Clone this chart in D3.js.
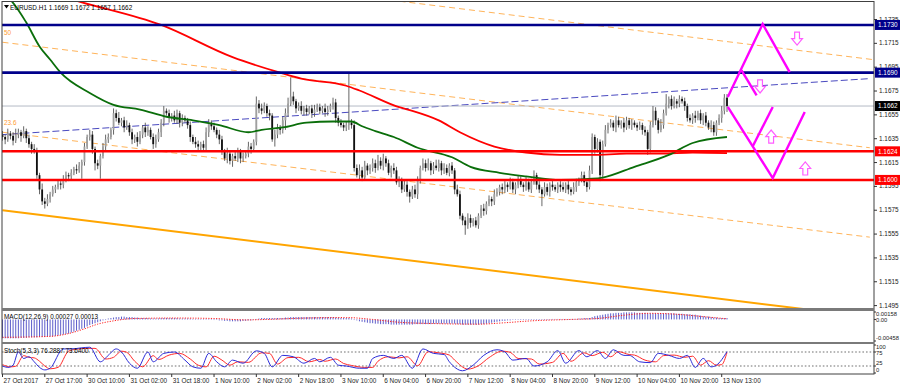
<!DOCTYPE html>
<html>
<head>
<meta charset="utf-8">
<script src="https://cdn.jsdelivr.net/npm/d3@7"></script>
<style>
  body { margin: 0; background: #fff; }
  svg { display: block; }
  text { font-family: "Liberation Sans", Arial, sans-serif; }
</style>
</head>
<body>
<svg id="chart" width="900" height="387"></svg>
<script>
// ---- data (prices in pips above 1.1500) ----
const firstOpen = 138;
const closes = [
  136,134,139,137,133,138,140,137,141,135,
  130,126,124,104,92,82,80,84,88,92,
  94,97,96,100,104,103,106,109,108,112,
  115,128,136,138,126,114,112,120,128,134,
  136,142,156,152,148,150,144,146,140,134,
  136,132,138,144,140,142,136,130,134,140,
  148,158,156,152,154,150,156,148,152,150,
  146,136,132,130,128,130,127,140,148,145,
  142,138,134,124,118,122,116,120,118,124,
  118,120,122,128,126,132,164,160,158,162,
  156,154,134,138,144,142,150,156,164,170,
  166,160,162,158,160,157,160,156,159,161,
  158,160,157,159,162,165,152,148,146,144,
  146,148,146,110,104,108,102,112,108,110,
  114,110,116,112,118,114,106,110,108,98,
  100,92,96,90,86,92,88,100,110,114,
  110,114,108,112,110,114,108,110,106,112,
  108,92,88,70,66,62,68,64,66,62,
  70,76,74,80,84,82,88,90,94,92,
  96,94,98,92,96,100,96,94,98,92,
  98,104,96,92,88,94,90,96,94,92,
  96,94,92,96,92,90,94,98,100,104,
  98,94,108,136,126,132,104,130,142,146,
  148,144,150,146,148,144,150,146,148,146,
  144,146,142,140,126,146,158,150,142,146,
  156,164,168,162,166,164,168,166,162,152,
  150,154,152,156,150,154,148,144,146,140,
  148,152,158,169,162
];
const wickUp = [
  3,2,4,2,3,5,3,2,4,2, 3,2,4,3,2,5,3,4,2,3, 2,3,2,4,3,2,3,2,4,3,
  2,3,2,4,3,2,3,2,3,4, 3,2,4,3,5,2,3,4,2,3, 2,4,3,2,4,3,2,3,4,3,
  3,4,2,3,2,4,3,2,3,2, 2,3,2,4,3,2,3,4,3,2, 3,2,4,3,2,5,3,2,4,3,
  2,3,2,4,3,2,6,3,4,3, 2,3,2,4,3,2,3,4,5,16, 4,2,3,4,2,3,2,3,4,3,
  3,2,4,3,2,4,3,2,3,2, 3,42,3,4,3,5,3,4,2,3, 4,3,5,3,4,2,3,2,4,3,
  3,2,4,3,2,3,4,3,2,4, 3,4,2,3,5,3,2,4,3,2, 3,2,4,3,2,3,4,3,2,3,
  2,3,4,2,3,2,4,3,2,3, 3,2,4,3,2,4,3,2,5,3, 3,4,2,3,2,4,3,2,3,2,
  2,3,4,2,3,2,4,3,2,3, 3,2,4,3,2,3,2,3,4,2, 3,2,4,3,2,4,3,2,3,2,
  2,3,2,3,2,3,4,3,2,5, 3,8,2,3,4,2,3,2,3,2, 3,2,4,2,3,2,3,2,4,3,
  2,3,4,3,3
];
const wickDn = [
  3,4,2,3,4,2,3,5,2,4, 3,4,2,3,4,3,4,2,3,2, 3,2,4,3,2,4,3,2,3,2,
  11,3,2,3,4,6,3,11,2,3, 3,2,4,3,2,3,4,2,3,4, 3,4,2,3,4,3,2,4,3,2,
  4,3,2,4,3,2,3,4,3,2, 3,4,2,3,4,3,2,3,4,3, 2,3,4,3,2,4,3,5,2,3,
  4,3,2,3,4,2,3,4,3,2, 3,4,2,6,3,4,3,8,3,2, 3,4,2,3,4,3,2,4,3,2,
  3,2,4,3,2,3,4,3,2,3, 3,4,3,3,2,4,3,2,4,3, 3,4,2,3,4,3,2,4,3,2,
  4,3,2,4,5,2,3,4,3,2, 3,2,4,3,2,3,4,3,2,3, 3,4,2,3,4,8,3,4,3,2,
  3,2,4,3,2,4,3,2,3,4, 3,4,2,3,4,3,2,4,3,2, 3,2,4,3,10,2,3,4,3,2,
  3,4,2,3,4,3,2,4,3,2, 3,4,2,3,4,3,5,3,2,3, 2,3,4,2,3,4,2,3,4,2,
  3,2,4,3,5,3,2,4,3,2, 3,2,4,3,2,4,3,2,4,3, 2,3,4,2,3,4,3,2,4,3,
  3,2,4,3,5
];
// moving averages, read as [bar, pips]
const redMA = [[0,268],[30,249],[60,230],[87,203],[105,190],[113,185],[130,179],[135,175],
  [150,161],[155,158],[165,150],[173,140],[186,128],[198,123],[211,121],[223,121],[236,122],
  [249,122],[261,123],[274,122.5]];
const greenMA = [[0,256],[3,251],[9,232],[14,212],[18,201],[22,190],[33,173],[42,163],[52,159],
  [62,153],[72,150],[82,146],[93,140],[98,142],[106,144],[115,148],[125,149],[132,149],[136,145],
  [141,141],[148,136],[157,127],[170,119],[177,111],[188,106],[198,103],[211,100],[223,101],
  [227,102],[239,111],[252,121],[261,131],[274,136]];
// drawn trend lines, [bar, pips]
const blueTrend = [[0,138],[328,185]];
const fibLevels = ["78.6", "50", "23.6", "0"];
const fibLines = [[[0,291],[329,201]], [[0,215.5],[328,127]], [[0,140],[328,52]], [[0,74.6],[330,-15.7]]];
const levelPrices = [1.1730, 1.1690, 1.1624, 1.1600];
const bidPrice = 1.1662;
const priceTicks = [1.1735,1.1715,1.1695,1.1675,1.1655,1.1635,1.1615,1.1595,1.1575,1.1555,1.1535,1.1515,1.1495];
// projected pattern
const zigzags = [
  [[274.3,169.6],[287.5,230.8],[297.7,190.5]],
  [[279.5,192],[285.2,171]],
  [[274.3,161.2],[291.3,101.6],[303.4,157]],
  [[283.7,128],[291.3,161.2]]
];
const arrows = [
  {i:300.5, p:218.6, dir:"down"}, {i:286.5, p:178.4, dir:"down"},
  {i:290.7, p:136.4, dir:"up"}, {i:303.6, p:109.6, dir:"up"}
];
// MACD main (histogram), pips
const macd = [
  -40,-40,-40,-40,-40,-40,-40,-39,-39,-39, -38,-38,-38,-38,-37,-37,-37,-36,-36,-36,
  -35,-34,-33,-32,-31,-30,-28,-26,-24,-22, -20,-18,-15,-12,-10,-8,-6,-4,-2,0,
  2,3,4,5,5,6,6,5,5,5, 4,4,3,3,3,3,2,2,2,2, 3,3,3,3,3,3,3,2,2,2, 2,2,1,1,1,1,1,1,1,1,
  0,-1,-2,-2,-3,-3,-4,-4,-4,-4, -4,-3,-3,-2,-2,-1,1,2,3,3, 3,3,3,3,3,3,3,4,4,5,
  5,5,5,5,5,5,5,5,5,5, 5,5,5,5,5,5,4,4,3,3, 3,3,2,0,-2,-4,-5,-6,-7,-8,
  -8,-9,-9,-10,-10,-10,-10,-11,-11,-11, -11,-11,-11,-11,-11,-11,-10,-10,-10,-10,
  -10,-10,-10,-9,-9,-9,-9,-9,-9,-9, -9,-9,-10,-10,-11,-11,-11,-11,-11,-11,
  -11,-10,-10,-9,-8,-7,-6,-5,-4,-3, -3,-2,-2,-1,-1,-1,0,0,0,0, 0,0,0,0,0,0,0,0,1,1,
  1,1,1,1,1,1,1,1,2,2, 3,3,3,5,7,8,9,10,11,12, 13,13,14,14,14,15,15,15,15,15,
  14,14,14,14,13,13,13,13,13,13, 13,13,13,13,13,12,12,12,11,11, 11,10,10,9,8,7,6,6,5,4,
  4,3,3,3,3
];
const macdSignal = [[0,-38],[18,-36],[25,-30],[31,-20],[36,-10],[42,-3],[50,2],[65,3],[80,2],
  [92,-1],[100,0],[115,3],[130,4],[140,0],[150,-6],[165,-9],[180,-10],[190,-7],[200,-3],[215,0],
  [225,2],[235,9],[245,13],[255,11],[265,6],[274,1.3]];
// Stochastic %K and %D, [bar, value]
const stochK = [[0,25],[2,20],[4,28],[6,75],[8,52],[10,58],[12,40],[14,20],[16,11],[18,17],[23,86],
  [26,86],[30,90],[33,92],[37,40],[40,63],[43,86],[45,75],[48,35],[51,17],[55,75],[57,40],[61,70],
  [65,75],[69,46],[72,22],[75,17],[78,70],[81,40],[84,22],[87,46],[91,35],[96,79],[99,70],[102,22],
  [106,63],[110,58],[114,35],[118,52],[120,40],[124,56],[127,28],[130,25],[135,17],[138,17],[140,52],
  [144,63],[148,52],[151,63],[155,17],[159,86],[163,70],[167,66],[169,40],[174,8],[178,28],[182,63],
  [187,83],[190,75],[193,46],[198,52],[201,25],[206,40],[210,80],[213,35],[218,80],[221,58],[225,80],
  [228,52],[231,83],[235,63],[237,63],[241,40],[245,37],[248,70],[252,63],[256,52],[259,63],[262,20],
  [265,52],[268,22],[270,28],[274,76.3]];
const stochD = [[0,30],[3,22],[5,24],[8,62],[10,56],[12,54],[14,42],[16,25],[18,15],[21,20],[25,78],
  [28,85],[32,88],[35,88],[39,50],[42,56],[45,78],[47,74],[50,42],[53,22],[57,62],[59,48],[63,64],
  [67,70],[71,50],[74,28],[77,22],[80,60],[83,46],[86,28],[89,40],[93,38],[98,72],[101,70],[104,32],
  [108,55],[112,56],[116,40],[120,48],[122,42],[126,50],[129,34],[132,27],[137,20],[140,20],[142,42],
  [146,58],[150,54],[153,58],[157,26],[161,76],[165,72],[169,64],[171,46],[176,14],[180,26],[184,55],
  [189,78],[192,74],[195,52],[200,50],[203,32],[208,38],[212,70],[215,42],[220,72],[223,62],[227,74],
  [230,58],[233,76],[237,66],[239,64],[243,46],[247,40],[250,62],[254,64],[258,56],[261,60],[264,28],
  [267,44],[270,28],[272,30],[274,73.6]];
const timeLabelBars = [0,16,32,48,64,80,96,112,128,144,160,176,192,208,224,240,256,272];
const timeLabels = ["27 Oct 2017","27 Oct 17:00","30 Oct 10:00","31 Oct 02:00","31 Oct 18:00",
  "1 Nov 10:00","2 Nov 02:00","2 Nov 18:00","3 Nov 10:00","6 Nov 04:00","6 Nov 20:00","7 Nov 12:00",
  "8 Nov 04:00","8 Nov 20:00","9 Nov 12:00","10 Nov 04:00","10 Nov 20:00","13 Nov 13:00"];

// ---- layout ----
const left = 2, right = 874;
const main = { top: 2, bottom: 308 };
const macdP = { top: 311, bottom: 342 };
const stochP = { top: 344, bottom: 374 };
const fs = 6.4;

const svg = d3.select('#chart');
const toPrice = v => 1.15 + v / 10000;

const x = d3.scaleLinear().domain([0, 274]).range([2.5, 727]);
const yP = d3.scaleLinear().domain([1.1735, 1.1495]).range([19, 305.1]);
const y = v => yP(toPrice(v));
const yM = d3.scaleLinear().domain([-45.8, 15.8]).range([341, 312]);
const yS = d3.scaleLinear().domain([0, 100]).range([373, 345]);

const defs = svg.append('defs');
defs.append('clipPath').attr('id', 'clipMain').append('rect')
  .attr('x', left).attr('y', main.top).attr('width', right - left).attr('height', main.bottom - main.top);

const plot = svg.append('g').attr('clip-path', 'url(#clipMain)');
const lineP = d3.line().x(d => x(d[0])).y(d => y(d[1]));

// fibo channel lines
fibLines.forEach((pts, k) => {
  const solid = fibLevels[k] === "0";
  plot.append('path').attr('d', lineP(pts))
    .attr('fill', 'none')
    .attr('stroke', solid ? '#ffa500' : '#ffb45a')
    .attr('stroke-width', solid ? 2 : 1)
    .attr('stroke-dasharray', solid ? null : '6,4');
});
plot.selectAll('.fibLabel').data(fibLines.slice(1, 3)).enter().append('text')
  .attr('x', 4).attr('y', d => y(d[0][1]) - 7)
  .attr('font-size', fs).attr('fill', '#ff9a30')
  .text((d, k) => fibLevels[k + 1]);

// blue trend line
plot.append('path').attr('d', lineP(blueTrend))
  .attr('fill', 'none').attr('stroke', '#4a4ac0').attr('stroke-width', 1)
  .attr('stroke-dasharray', '7,3');

// bid line
plot.append('line').attr('x1', left).attr('x2', right)
  .attr('y1', yP(bidPrice)).attr('y2', yP(bidPrice))
  .attr('stroke', '#b4bac6').attr('stroke-width', 1);

// candles
const candles = closes.map((c, i) => {
  const o = i === 0 ? firstOpen : closes[i - 1];
  return { i, o, c, h: Math.max(o, c) + wickUp[i], l: Math.min(o, c) - wickDn[i] };
});
const cg = plot.append('g');
cg.selectAll('.wick').data(candles).enter().append('line')
  .attr('x1', d => x(d.i)).attr('x2', d => x(d.i))
  .attr('y1', d => y(d.h)).attr('y2', d => y(d.l))
  .attr('stroke', '#555').attr('stroke-width', 0.9);
cg.selectAll('.body').data(candles).enter().append('rect')
  .attr('x', d => x(d.i) - 0.9).attr('width', 1.8)
  .attr('y', d => y(Math.max(d.o, d.c)))
  .attr('height', d => Math.max(0.8, Math.abs(y(d.o) - y(d.c))))
  .attr('fill', d => d.c >= d.o ? '#a0a0a0' : '#111');

// moving averages
const curveLine = d3.line().x(d => x(d[0])).y(d => y(d[1])).curve(d3.curveMonotoneX);
plot.append('path').attr('d', curveLine(redMA)).attr('fill', 'none')
  .attr('stroke', '#ff0000').attr('stroke-width', 1.8);
plot.append('path').attr('d', curveLine(greenMA)).attr('fill', 'none')
  .attr('stroke', '#0a6e0a').attr('stroke-width', 1.8);

// horizontal levels
const levelColor = p => p > 1.165 ? '#00008b' : '#ff0000';
plot.selectAll('.level').data(levelPrices).enter().append('line')
  .attr('x1', left).attr('x2', right)
  .attr('y1', d => yP(d)).attr('y2', d => yP(d))
  .attr('stroke', levelColor).attr('stroke-width', 2.6);

// projected zigzag
zigzags.forEach(z => {
  plot.append('path').attr('d', lineP(z)).attr('fill', 'none')
    .attr('stroke', '#ff00ff').attr('stroke-width', 2.4);
});
function arrowPath(cx, cy, dir) {
  const s = dir === 'down' ? 1 : -1;
  const pts = [[-2.4,-6.5],[2.4,-6.5],[2.4,0],[5.4,0],[0,6.5],[-5.4,0],[-2.4,0]]
    .map(p => [cx + p[0], cy + s * p[1]]);
  return 'M' + pts.map(p => p.join(',')).join('L') + 'Z';
}
plot.selectAll('.arrow').data(arrows).enter().append('path')
  .attr('d', d => arrowPath(x(d.i), y(d.p), d.dir))
  .attr('fill', '#fff').attr('stroke', '#ff5cff').attr('stroke-width', 1.2);

// title
svg.append('path').attr('d', 'M4,5L9,5L6.5,8.5Z').attr('fill', '#000');
svg.append('text').attr('x', 10).attr('y', 10).attr('font-size', fs).attr('fill', '#000')
  .text('EURUSD.H1  1.1669 1.1672 1.1657 1.1662');

// ---- MACD panel ----
const mg = svg.append('g');
mg.selectAll('.hist').data(macd).enter().append('line')
  .attr('x1', (d, i) => x(i)).attr('x2', (d, i) => x(i))
  .attr('y1', yM(0)).attr('y2', d => yM(d) + (d === 0 ? 0.6 : 0))
  .attr('stroke', '#4b4bc4').attr('stroke-width', 0.9);
mg.append('path')
  .attr('d', d3.line().x(d => x(d[0])).y(d => yM(d[1])).curve(d3.curveMonotoneX)(macdSignal))
  .attr('fill', 'none').attr('stroke', '#ff2020').attr('stroke-width', 1)
  .attr('stroke-dasharray', '1.2,1.4');
mg.append('text').attr('x', 4).attr('y', 318.5).attr('font-size', fs).attr('fill', '#000')
  .text('MACD(12,26,9) 0.00027 0.00013');

// ---- Stochastic panel ----
const sg = svg.append('g');
[75, 25].forEach(v => {
  sg.append('line').attr('x1', left).attr('x2', right).attr('y1', yS(v)).attr('y2', yS(v))
    .attr('stroke', '#707070').attr('stroke-width', 1.1).attr('stroke-dasharray', '1.6,2');
});
const sLine = d3.line().x(d => x(d[0])).y(d => yS(d[1])).curve(d3.curveMonotoneX);
sg.append('path').attr('d', sLine(stochD)).attr('fill', 'none')
  .attr('stroke', '#ff2a2a').attr('stroke-width', 1);
sg.append('path').attr('d', sLine(stochK)).attr('fill', 'none')
  .attr('stroke', '#2b2bd8').attr('stroke-width', 1);
sg.append('text').attr('x', 4).attr('y', 352.5).attr('font-size', fs).attr('fill', '#000')
  .text('Stoch(5,3,3) 76.2887 73.6400');

// ---- frames ----
const frame = svg.append('g').attr('fill', 'none');
frame.append('rect').attr('x', left).attr('y', 1.5).attr('width', right - left).attr('height', stochP.bottom - 1.5)
  .attr('stroke', '#404040').attr('stroke-width', 1);
[[main.bottom, macdP.top], [macdP.bottom, stochP.top]].forEach(([a, b]) => {
  svg.append('rect').attr('x', left).attr('y', a).attr('width', right - left).attr('height', b - a)
    .attr('fill', '#7a7a7a');
});

// ---- right axes ----
const axisStyle = g => {
  g.select('.domain').remove();
  g.selectAll('.tick line').attr('stroke', '#333');
  g.selectAll('.tick text').attr('font-size', fs).attr('fill', '#222')
    .attr('font-family', '"Liberation Sans", Arial, sans-serif').attr('x', 5);
};
svg.append('g').attr('transform', `translate(${right},0)`)
  .call(d3.axisRight(yP).tickValues(priceTicks).tickSize(3).tickFormat(d3.format('.4f')))
  .call(axisStyle);

// value boxes
const boxes = levelPrices.map(p => ({ p, fill: levelColor(p) })).concat([{ p: bidPrice, fill: '#000' }]);
const bx = svg.selectAll('.box').data(boxes).enter().append('g');
bx.append('rect').attr('x', right + 1).attr('y', d => yP(d.p) - 5).attr('width', 25).attr('height', 10)
  .attr('fill', d => d.fill);
bx.append('text').attr('x', right + 4).attr('y', d => yP(d.p) + 2.3).attr('font-size', fs)
  .attr('fill', '#fff').text(d => d.p.toFixed(4));

// indicator axis labels (they crowd each other in the original too)
const indLabels = [
  { t: '0.00158', y: 316 }, { t: '0.00', y: 322 }, { t: '-0.00458', y: 340 },
  { t: '100', y: 348.5 }, { t: '75', y: 355 }, { t: '25', y: 365 }, { t: '0', y: 371.5 }
];
svg.selectAll('.indl').data(indLabels).enter().append('text')
  .attr('x', right + 2).attr('y', d => d.y).attr('font-size', 5.8).attr('fill', '#222').text(d => d.t);
[yM(15.8), yM(0), yM(-45.8), yS(100), yS(75), yS(25), yS(0)].forEach(v => {
  svg.append('line').attr('x1', right).attr('x2', right + 2).attr('y1', v).attr('y2', v)
    .attr('stroke', '#333');
});

// ---- time axis ----
const tg = svg.append('g');
tg.selectAll('.tl').data(timeLabelBars).enter().append('text')
  .attr('x', d => x(d) + 1).attr('y', 382.5).attr('font-size', fs).attr('fill', '#222')
  .text((d, k) => timeLabels[k]);
tg.selectAll('.tt').data(timeLabelBars).enter().append('line')
  .attr('x1', d => x(d)).attr('x2', d => x(d)).attr('y1', stochP.bottom).attr('y2', stochP.bottom + 3)
  .attr('stroke', '#333');
</script>
</body>
</html>
